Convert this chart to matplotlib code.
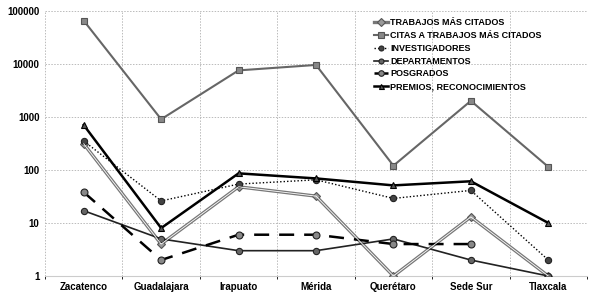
import matplotlib
matplotlib.use("Agg")
import matplotlib.pyplot as plt
import numpy as np

categories = ["Zacatenco", "Guadalajara", "Irapuato", "Mérida", "Querétaro", "Sede Sur", "Tlaxcala"]
trabajos = [310, 4, 48, 32, 1, 13, 1]
citas = [65000, 900, 7500, 9500, 120, 2000, 114]
investigadores = [350, 26, 54, 65, 29, 41, 2]
departamentos = [17, 5, 3, 3, 5, 2, 1]
posgrados = [38, 2, 6, 6, 4, 4, np.nan]
premios = [700, 8, 86, 69, 51, 61, 10]
labels = ["TRABAJOS MÁS CITADOS", "CITAS A TRABAJOS MÁS CITADOS", "INVESTIGADORES",
          "DEPARTAMENTOS", "POSGRADOS", "PREMIOS, RECONOCIMIENTOS"]
yticks = [1, 10, 100, 1000, 10000, 100000]

plt.rcParams['font.family'] = ['Liberation Sans', 'DejaVu Sans']
fig = plt.figure(figsize=(5.92, 2.93), dpi=100)
ax = fig.add_axes([45/592, 1-276/293, (587-45)/592, (276-10.7)/293])
x = np.arange(len(categories))

# Trabajos: double gray line
h1, = ax.plot(x, trabajos, color='#777777', lw=2.4, marker='D', ms=4.5,
              mfc='#999999', mec='#555555', mew=0.8, zorder=3)
ax.plot(x, trabajos, color='white', lw=0.6, zorder=3.1)
h2, = ax.plot(x, citas, color='#666666', lw=1.5, marker='s', ms=5,
              mfc='#888888', mec='#555555', mew=0.8, zorder=3)
h3, = ax.plot(x, investigadores, color='black', lw=1.0, ls=(0, (1, 1.5)), marker='o', ms=4.5,
              mfc='#444444', mec='#222222', mew=0.8, zorder=3)
h4, = ax.plot(x, departamentos, color='#222222', lw=1.2, marker='o', ms=4.5,
              mfc='#666666', mec='#222222', mew=0.8, zorder=3)
h5, = ax.plot(x, posgrados, color='black', lw=1.8, ls=(0, (6, 4)), marker='o', ms=5,
              mfc='#888888', mec='#222222', mew=0.8, zorder=3)
h6, = ax.plot(x, premios, color='black', lw=1.8, marker='^', ms=4.5,
              mfc='#555555', mec='black', mew=0.8, zorder=3)

ax.set_yscale('log')
ax.set_ylim(1, 100000)
ax.set_xlim(-0.5, len(categories) - 0.5)
ax.set_yticks(yticks)
ax.set_yticklabels([str(v) for v in yticks], fontsize=7, fontweight='bold')
ax.minorticks_off()
ax.set_xticks(x)
ax.set_xticklabels(categories, fontsize=7, fontweight='bold')
ax.tick_params(length=0, pad=4)
ax.set_xticks(np.arange(-0.5, len(categories)), minor=True)
ax.grid(False)
ax.grid(True, which='minor', axis='x', color='#bbbbbb', ls=(0, (1.5, 1.5)), lw=0.7)
ax.grid(True, which='major', axis='y', color='#bbbbbb', ls=(0, (1.5, 1.5)), lw=0.7)
for s in ['top', 'right', 'left']:
    ax.spines[s].set_visible(False)
ax.spines['bottom'].set_color('#cccccc')
ax.spines['bottom'].set_linewidth(0.8)

leg = ax.legend([h1, h2, h3, h4, h5, h6], labels, loc='upper left',
                bbox_to_anchor=(0.60, 0.985), frameon=False,
                prop={'size': 6.5, 'weight': 'bold'}, handlelength=1.6,
                handletextpad=0.2, labelspacing=0.42, borderaxespad=0, markerscale=0.8)

fig.savefig("out.png", dpi=100)
